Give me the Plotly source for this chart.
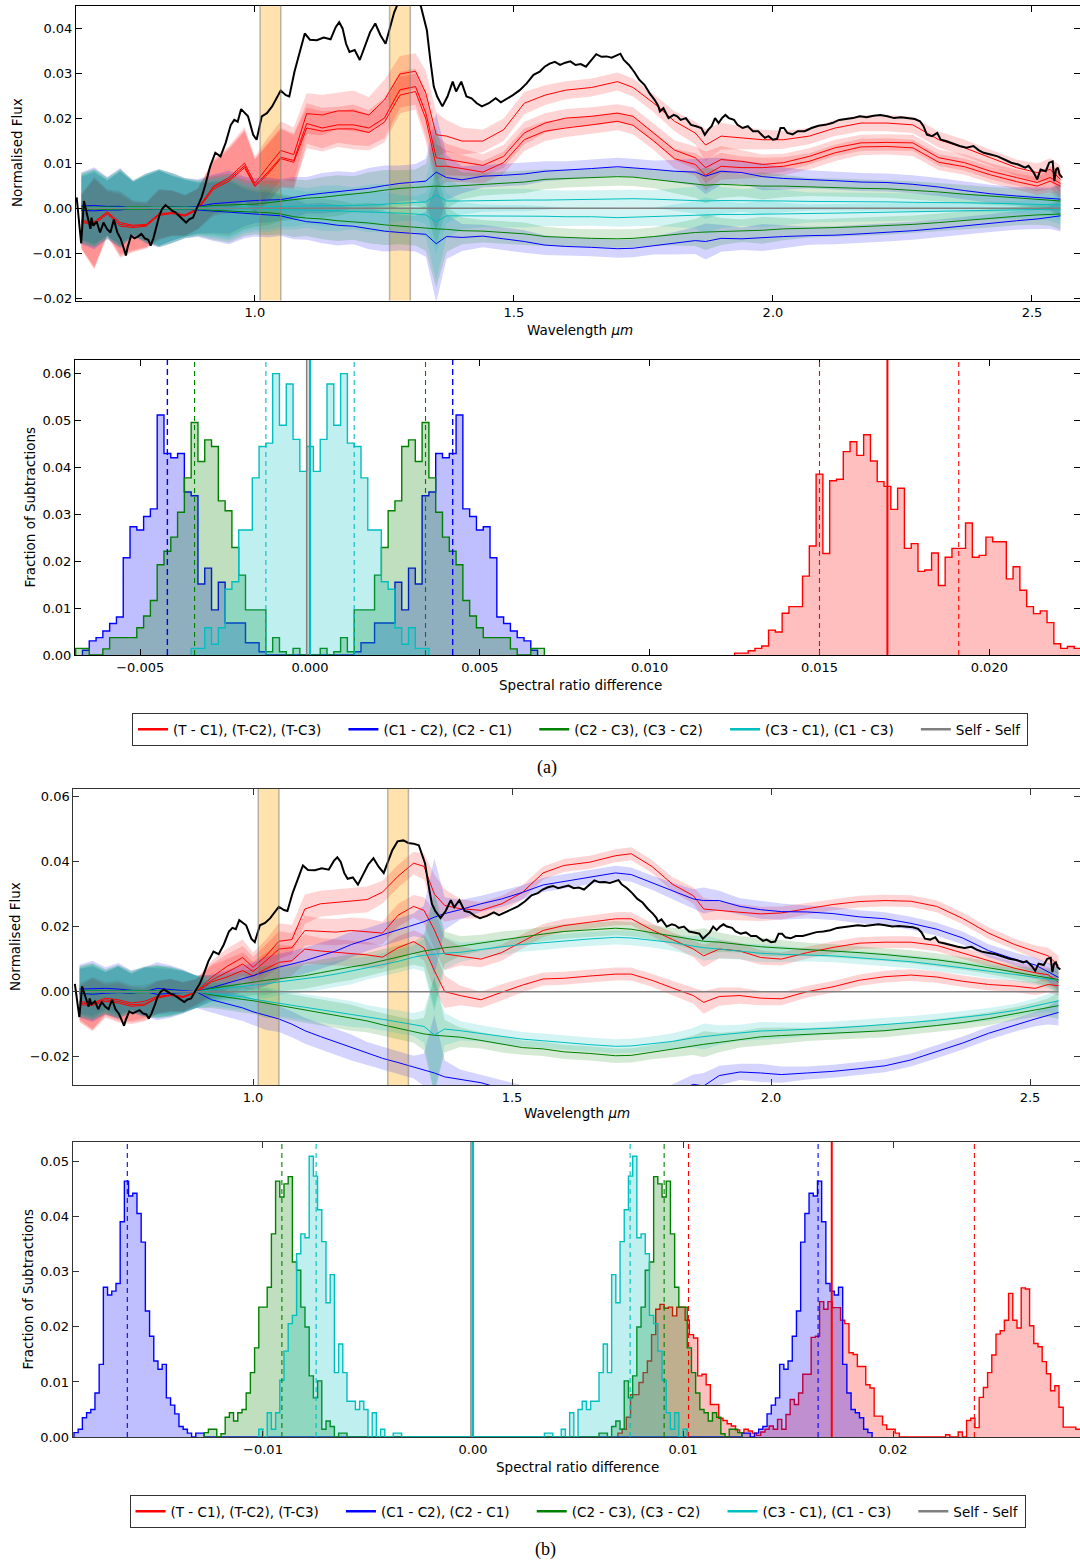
import plotly.graph_objects as go

# ================= DATA =================
# wavelength grid of the binned spectral differences (micron)
WL_MODEL = [0.665, 0.69, 0.715, 0.74, 0.765, 0.79, 0.815, 0.84, 0.865, 0.89,
            0.92, 0.95, 0.98, 1.00, 1.025, 1.05, 1.075, 1.10, 1.13, 1.16,
            1.19, 1.22, 1.25, 1.28, 1.31, 1.33, 1.35, 1.37, 1.40, 1.44,
            1.48, 1.52, 1.56, 1.60, 1.65, 1.70, 1.73, 1.77, 1.81, 1.85,
            1.87, 1.90, 1.94, 1.98, 2.02, 2.07, 2.12, 2.17, 2.22, 2.27,
            2.32, 2.37, 2.42, 2.47, 2.51, 2.535, 2.555]

# ---- panel (a) spectra ----
RED_A1 = [-0.0028, -0.0030, -0.0008, -0.0032, -0.0038, -0.0036, -0.0012, -0.0010, -0.0015, 0.0000,
          0.0049, 0.0068, 0.0100, 0.0055, 0.0092, 0.0128, 0.0119, 0.0210, 0.0207, 0.0216,
          0.0216, 0.0207, 0.0240, 0.0298, 0.0304, 0.0255, 0.0163, 0.0160, 0.0149, 0.0149,
          0.0174, 0.0233, 0.0251, 0.0262, 0.0268, 0.0281, 0.0268, 0.0233, 0.0193, 0.0167,
          0.0140, 0.0160, 0.0156, 0.0152, 0.0152, 0.0160, 0.0178, 0.0189, 0.0189, 0.0185,
          0.0152, 0.0134, 0.0112, 0.0090, 0.0079, 0.0086, 0.0064]
RED_A2 = [-0.0030, -0.0033, -0.0010, -0.0036, -0.0040, -0.0038, -0.0014, -0.0011, -0.0016, -0.0002,
          0.0046, 0.0064, 0.0094, 0.0050, 0.0080, 0.0113, 0.0106, 0.0188, 0.0178, 0.0185,
          0.0185, 0.0178, 0.0200, 0.0263, 0.0270, 0.0211, 0.0112, 0.0108, 0.0102, 0.0095,
          0.0115, 0.0167, 0.0189, 0.0200, 0.0204, 0.0211, 0.0204, 0.0167, 0.0129, 0.0112,
          0.0090, 0.0108, 0.0104, 0.0097, 0.0101, 0.0115, 0.0134, 0.0145, 0.0146, 0.0145,
          0.0112, 0.0101, 0.0082, 0.0068, 0.0057, 0.0068, 0.0055]
RED_A3 = [-0.0032, -0.0036, -0.0013, -0.0040, -0.0043, -0.0040, -0.0016, -0.0012, -0.0018, -0.0003,
          0.0042, 0.0060, 0.0090, 0.0048, 0.0076, 0.0110, 0.0102, 0.0178, 0.0171, 0.0176,
          0.0176, 0.0168, 0.0191, 0.0251, 0.0259, 0.0198, 0.0093, 0.0093, 0.0088, 0.0080,
          0.0101, 0.0152, 0.0171, 0.0178, 0.0185, 0.0193, 0.0184, 0.0149, 0.0110, 0.0097,
          0.0073, 0.0093, 0.0090, 0.0090, 0.0093, 0.0104, 0.0123, 0.0136, 0.0137, 0.0134,
          0.0102, 0.0092, 0.0074, 0.0059, 0.0049, 0.0060, 0.0049]
BLU_A_UP = [0.0005, 0.0006, 0.0004, 0.0004, 0.0000, 0.0002, 0.0001, 0.0003, 0.0002, 0.0004,
            0.0010, 0.0013, 0.0015, 0.0017, 0.0018, 0.0019, 0.0024, 0.0029, 0.0033, 0.0037,
            0.0040, 0.0044, 0.0050, 0.0055, 0.0058, 0.0060, 0.0080, 0.0068, 0.0063, 0.0071,
            0.0073, 0.0076, 0.0082, 0.0084, 0.0088, 0.0092, 0.0090, 0.0086, 0.0082, 0.0080,
            0.0071, 0.0082, 0.0079, 0.0070, 0.0066, 0.0064, 0.0061, 0.0058, 0.0057, 0.0053,
            0.0047, 0.0039, 0.0032, 0.0027, 0.0024, 0.0021, 0.0020]
BLU_A_LO = [-0.0005, -0.0006, -0.0004, -0.0004, 0.0000, -0.0003, -0.0002, -0.0003, -0.0002, -0.0004,
            -0.0008, -0.0010, -0.0012, -0.0013, -0.0015, -0.0017, -0.0024, -0.0030, -0.0033, -0.0038,
            -0.0040, -0.0046, -0.0051, -0.0054, -0.0056, -0.0058, -0.0079, -0.0063, -0.0065, -0.0062,
            -0.0068, -0.0074, -0.0082, -0.0085, -0.0087, -0.0090, -0.0089, -0.0083, -0.0078, -0.0072,
            -0.0074, -0.0067, -0.0068, -0.0065, -0.0063, -0.0061, -0.0060, -0.0057, -0.0054, -0.0050,
            -0.0045, -0.0039, -0.0033, -0.0028, -0.0024, -0.0021, -0.0017]
GRN_A_UP = [0.0003, 0.0002, 0.0003, 0.0002, 0.0003, 0.0002, 0.0002, 0.0003, 0.0002, 0.0002,
            0.0006, 0.0007, 0.0008, 0.0009, 0.0012, 0.0016, 0.0019, 0.0022, 0.0024, 0.0028,
            0.0031, 0.0035, 0.0040, 0.0044, 0.0046, 0.0048, 0.0049, 0.0048, 0.0050, 0.0053,
            0.0056, 0.0058, 0.0064, 0.0066, 0.0068, 0.0070, 0.0069, 0.0064, 0.0058, 0.0053,
            0.0051, 0.0053, 0.0051, 0.0049, 0.0049, 0.0047, 0.0046, 0.0044, 0.0043, 0.0040,
            0.0036, 0.0031, 0.0027, 0.0024, 0.0020, 0.0018, 0.0016]
GRN_A_LO = [-0.0003, -0.0002, -0.0003, -0.0002, -0.0003, -0.0002, -0.0002, -0.0003, -0.0002, -0.0002,
            -0.0005, -0.0006, -0.0007, -0.0008, -0.0010, -0.0013, -0.0019, -0.0022, -0.0024, -0.0028,
            -0.0030, -0.0033, -0.0037, -0.0040, -0.0043, -0.0045, -0.0046, -0.0047, -0.0050, -0.0051,
            -0.0054, -0.0057, -0.0063, -0.0065, -0.0067, -0.0068, -0.0067, -0.0063, -0.0058, -0.0054,
            -0.0053, -0.0052, -0.0050, -0.0049, -0.0046, -0.0045, -0.0043, -0.0041, -0.0039, -0.0036,
            -0.0032, -0.0027, -0.0023, -0.0018, -0.0015, -0.0014, -0.0013]
CYN_A_UP = [0.0001, 0.0001, 0.0002, 0.0001, 0.0001, 0.0001, 0.0002, 0.0001, 0.0001, 0.0001,
            0.0002, 0.0002, 0.0003, 0.0003, 0.0003, 0.0004, 0.0004, 0.0005, 0.0005, 0.0006,
            0.0006, 0.0007, 0.0009, 0.0011, 0.0013, 0.0014, 0.0029, 0.0016, 0.0016, 0.0017,
            0.0018, 0.0018, 0.0018, 0.0019, 0.0020, 0.0021, 0.0021, 0.0020, 0.0019, 0.0018,
            0.0016, 0.0017, 0.0017, 0.0016, 0.0016, 0.0015, 0.0015, 0.0014, 0.0014, 0.0013,
            0.0013, 0.0012, 0.0011, 0.0009, 0.0008, 0.0008, 0.0007]
CYN_A_LO = [-0.0001, -0.0001, -0.0001, -0.0002, -0.0001, -0.0001, -0.0001, -0.0002, -0.0001, -0.0001,
            -0.0001, -0.0001, -0.0002, -0.0002, -0.0003, -0.0003, -0.0003, -0.0004, -0.0005, -0.0006,
            -0.0007, -0.0008, -0.0009, -0.0011, -0.0013, -0.0015, -0.0030, -0.0017, -0.0017, -0.0017,
            -0.0018, -0.0018, -0.0018, -0.0019, -0.0019, -0.0021, -0.0020, -0.0019, -0.0017, -0.0015,
            -0.0016, -0.0014, -0.0014, -0.0013, -0.0013, -0.0012, -0.0011, -0.0010, -0.0009, -0.0009,
            -0.0008, -0.0006, -0.0005, -0.0004, -0.0003, -0.0003, -0.0002]
ERR_RED_A = [0.0060, 0.0100, 0.0050, 0.0070, 0.0055, 0.0050, 0.0055, 0.0050, 0.0045, 0.0045,
             0.0060, 0.0070, 0.0080, 0.0060, 0.0065, 0.0065, 0.0060, 0.0045, 0.0045, 0.0040,
             0.0045, 0.0040, 0.0045, 0.0040, 0.0040, 0.0050, 0.0050, 0.0035, 0.0030, 0.0025,
             0.0025, 0.0025, 0.0022, 0.0020, 0.0020, 0.0020, 0.0020, 0.0020, 0.0022, 0.0025,
             0.0035, 0.0030, 0.0025, 0.0022, 0.0020, 0.0018, 0.0018, 0.0018, 0.0018, 0.0018,
             0.0018, 0.0018, 0.0018, 0.0018, 0.0020, 0.0025, 0.0030]
ERR_CMP_A = [0.0075, 0.0085, 0.0065, 0.0085, 0.0060, 0.0075, 0.0085, 0.0075, 0.0065, 0.0060,
             0.0065, 0.0070, 0.0055, 0.0050, 0.0050, 0.0045, 0.0045, 0.0040, 0.0045, 0.0045,
             0.0040, 0.0045, 0.0045, 0.0040, 0.0040, 0.0050, 0.0130, 0.0050, 0.0030, 0.0025,
             0.0025, 0.0025, 0.0022, 0.0020, 0.0020, 0.0020, 0.0020, 0.0020, 0.0025, 0.0030,
             0.0040, 0.0030, 0.0025, 0.0030, 0.0025, 0.0020, 0.0020, 0.0020, 0.0020, 0.0020,
             0.0020, 0.0020, 0.0020, 0.0020, 0.0022, 0.0025, 0.0035]

# ---- panel (b) spectra ----
RED_B1 = [-0.0030, -0.0035, -0.0020, -0.0025, -0.0035, -0.0030, -0.0015, -0.0010, -0.0015, 0.0000,
          0.0044, 0.0078, 0.0105, 0.0075, 0.0110, 0.0155, 0.0160, 0.0254, 0.0270, 0.0275,
          0.0280, 0.0283, 0.0306, 0.0355, 0.0395, 0.0385, 0.0300, 0.0265, 0.0255, 0.0250,
          0.0270, 0.0305, 0.0365, 0.0388, 0.0398, 0.0418, 0.0424, 0.0385, 0.0330, 0.0295,
          0.0254, 0.0249, 0.0244, 0.0239, 0.0242, 0.0255, 0.0268, 0.0277, 0.0280, 0.0278,
          0.0262, 0.0225, 0.0180, 0.0145, 0.0122, 0.0110, 0.0080]
RED_B2 = [-0.0035, -0.0038, -0.0025, -0.0030, -0.0040, -0.0038, -0.0018, -0.0010, -0.0015, -0.0002,
          0.0035, 0.0060, 0.0085, 0.0062, 0.0095, 0.0131, 0.0135, 0.0188, 0.0185, 0.0183,
          0.0188, 0.0185, 0.0180, 0.0235, 0.0262, 0.0250, 0.0190, 0.0116, 0.0110, 0.0100,
          0.0120, 0.0155, 0.0188, 0.0203, 0.0213, 0.0224, 0.0224, 0.0190, 0.0160, 0.0131,
          0.0110, 0.0131, 0.0125, 0.0105, 0.0100, 0.0120, 0.0136, 0.0149, 0.0152, 0.0152,
          0.0142, 0.0118, 0.0095, 0.0072, 0.0058, 0.0052, 0.0029]
RED_B3 = [-0.0040, -0.0042, -0.0030, -0.0035, -0.0045, -0.0042, -0.0020, -0.0012, -0.0018, -0.0003,
          0.0030, 0.0045, 0.0065, 0.0048, 0.0070, 0.0090, 0.0095, 0.0131, 0.0125, 0.0121,
          0.0118, 0.0113, 0.0106, 0.0135, 0.0154, 0.0135, 0.0065, 0.0000, -0.0012, -0.0025,
          -0.0002, 0.0020, 0.0039, 0.0041, 0.0048, 0.0054, 0.0054, 0.0035, 0.0011, -0.0012,
          -0.0033, -0.0015, -0.0012, -0.0020, -0.0022, 0.0000, 0.0015, 0.0035, 0.0046, 0.0051,
          0.0045, 0.0032, 0.0022, 0.0017, 0.0010, 0.0022, 0.0018]
BLU_B_UP = [0.0008, 0.0010, 0.0010, 0.0008, 0.0005, 0.0000, 0.0010, 0.0006, 0.0003, 0.0000,
            0.0012, 0.0025, 0.0038, 0.0049, 0.0062, 0.0075, 0.0085, 0.0095, 0.0110, 0.0125,
            0.0145, 0.0160, 0.0175, 0.0190, 0.0205, 0.0215, 0.0229, 0.0240, 0.0252, 0.0270,
            0.0285, 0.0305, 0.0328, 0.0338, 0.0352, 0.0365, 0.0360, 0.0335, 0.0310, 0.0285,
            0.0280, 0.0280, 0.0262, 0.0252, 0.0246, 0.0245, 0.0240, 0.0230, 0.0224, 0.0210,
            0.0192, 0.0165, 0.0126, 0.0100, 0.0082, 0.0060, 0.0044]
BLU_B_LO = [-0.0005, -0.0008, -0.0005, -0.0003, -0.0005, 0.0000, -0.0008, -0.0005, -0.0003, 0.0000,
            -0.0025, -0.0038, -0.0050, -0.0062, -0.0073, -0.0084, -0.0100, -0.0120, -0.0138, -0.0155,
            -0.0172, -0.0190, -0.0205, -0.0218, -0.0232, -0.0240, -0.0250, -0.0262, -0.0269, -0.0280,
            -0.0298, -0.0310, -0.0320, -0.0335, -0.0345, -0.0350, -0.0348, -0.0330, -0.0310, -0.0285,
            -0.0290, -0.0258, -0.0247, -0.0250, -0.0255, -0.0250, -0.0245, -0.0237, -0.0228, -0.0210,
            -0.0185, -0.0158, -0.0128, -0.0103, -0.0084, -0.0073, -0.0064]
GRN_B_UP = [0.0004, 0.0003, 0.0004, 0.0002, 0.0004, 0.0003, 0.0002, 0.0002, 0.0001, 0.0000,
            0.0010, 0.0018, 0.0024, 0.0029, 0.0035, 0.0040, 0.0045, 0.0049, 0.0058, 0.0068,
            0.0076, 0.0084, 0.0095, 0.0106, 0.0118, 0.0125, 0.0130, 0.0135, 0.0140, 0.0150,
            0.0160, 0.0168, 0.0177, 0.0185, 0.0190, 0.0195, 0.0192, 0.0182, 0.0172, 0.0160,
            0.0155, 0.0152, 0.0145, 0.0138, 0.0134, 0.0130, 0.0126, 0.0120, 0.0114, 0.0107,
            0.0098, 0.0087, 0.0074, 0.0060, 0.0049, 0.0043, 0.0037]
GRN_B_LO = [-0.0004, -0.0003, -0.0004, -0.0002, -0.0004, -0.0003, -0.0002, -0.0002, -0.0001, 0.0000,
            -0.0010, -0.0018, -0.0024, -0.0028, -0.0035, -0.0042, -0.0048, -0.0055, -0.0063, -0.0072,
            -0.0080, -0.0090, -0.0102, -0.0112, -0.0122, -0.0130, -0.0134, -0.0137, -0.0140, -0.0150,
            -0.0162, -0.0172, -0.0176, -0.0185, -0.0190, -0.0197, -0.0196, -0.0186, -0.0176, -0.0165,
            -0.0162, -0.0156, -0.0147, -0.0139, -0.0135, -0.0132, -0.0128, -0.0124, -0.0120, -0.0113,
            -0.0104, -0.0095, -0.0083, -0.0068, -0.0055, -0.0049, -0.0043]
CYN_B_UP = [0.0002, 0.0001, 0.0002, 0.0001, 0.0002, 0.0001, 0.0001, 0.0001, 0.0001, 0.0000,
            0.0006, 0.0011, 0.0015, 0.0018, 0.0024, 0.0030, 0.0035, 0.0039, 0.0046, 0.0054,
            0.0063, 0.0072, 0.0083, 0.0093, 0.0106, 0.0112, 0.0116, 0.0118, 0.0121, 0.0130,
            0.0138, 0.0145, 0.0150, 0.0157, 0.0162, 0.0167, 0.0165, 0.0158, 0.0151, 0.0140,
            0.0135, 0.0131, 0.0124, 0.0118, 0.0115, 0.0113, 0.0110, 0.0104, 0.0099, 0.0092,
            0.0083, 0.0074, 0.0063, 0.0053, 0.0044, 0.0038, 0.0034]
CYN_B_LO = [-0.0002, -0.0001, -0.0002, -0.0001, -0.0002, -0.0001, -0.0001, -0.0001, -0.0001, 0.0000,
            -0.0006, -0.0011, -0.0016, -0.0023, -0.0030, -0.0036, -0.0042, -0.0048, -0.0055, -0.0062,
            -0.0069, -0.0076, -0.0085, -0.0093, -0.0101, -0.0107, -0.0133, -0.0115, -0.0120, -0.0128,
            -0.0138, -0.0146, -0.0151, -0.0157, -0.0163, -0.0168, -0.0167, -0.0160, -0.0153, -0.0142,
            -0.0138, -0.0133, -0.0127, -0.0121, -0.0119, -0.0116, -0.0112, -0.0107, -0.0102, -0.0095,
            -0.0088, -0.0079, -0.0070, -0.0058, -0.0043, -0.0035, -0.0028]
ERR_RED_B = [0.0055, 0.0080, 0.0050, 0.0060, 0.0055, 0.0050, 0.0050, 0.0050, 0.0045, 0.0040,
             0.0050, 0.0055, 0.0055, 0.0045, 0.0050, 0.0055, 0.0045, 0.0045, 0.0040, 0.0040,
             0.0040, 0.0040, 0.0035, 0.0035, 0.0035, 0.0040, 0.0060, 0.0050, 0.0030, 0.0025,
             0.0025, 0.0022, 0.0020, 0.0020, 0.0020, 0.0020, 0.0020, 0.0020, 0.0022, 0.0025,
             0.0035, 0.0028, 0.0025, 0.0022, 0.0020, 0.0018, 0.0018, 0.0018, 0.0018, 0.0018,
             0.0018, 0.0018, 0.0018, 0.0018, 0.0020, 0.0025, 0.0030]
ERR_CMP_B = [0.0075, 0.0085, 0.0065, 0.0080, 0.0060, 0.0075, 0.0080, 0.0075, 0.0065, 0.0050,
             0.0040, 0.0040, 0.0040, 0.0040, 0.0045, 0.0040, 0.0040, 0.0040, 0.0040, 0.0040,
             0.0040, 0.0035, 0.0035, 0.0035, 0.0035, 0.0050, 0.0180, 0.0050, 0.0030, 0.0025,
             0.0025, 0.0022, 0.0022, 0.0022, 0.0022, 0.0022, 0.0022, 0.0022, 0.0025, 0.0030,
             0.0040, 0.0030, 0.0025, 0.0028, 0.0025, 0.0020, 0.0020, 0.0020, 0.0020, 0.0020,
             0.0020, 0.0020, 0.0020, 0.0020, 0.0022, 0.0028, 0.0040]

# ---- target spectrum (black), same in both panels ----
WL_T = [0.656, 0.6647, 0.670, 0.6826, 0.6846, 0.6879, 0.6946, 0.7012, 0.7078, 0.7145,
        0.7211, 0.7278, 0.7344, 0.741, 0.7477, 0.751, 0.7543, 0.761, 0.7676, 0.7742,
        0.7809, 0.7875, 0.7942, 0.7988, 0.8041, 0.8108, 0.8154, 0.8207, 0.8274, 0.834,
        0.8406, 0.8473, 0.8539, 0.8606, 0.8672, 0.8738, 0.8805, 0.8871, 0.8924, 0.8971,
        0.9037, 0.9137, 0.9236, 0.9336, 0.9436, 0.9535, 0.9602, 0.9668, 0.9734, 0.9801,
        0.9867, 0.9967, 1.0033, 1.0133, 1.0232, 1.0332, 1.0432, 1.0498, 1.0598, 1.0664,
        1.0764, 1.0863, 1.0963, 1.1062, 1.1195, 1.1328, 1.1461, 1.156, 1.1627, 1.1693,
        1.176, 1.1826, 1.1926, 1.2025, 1.2125, 1.2224, 1.2324, 1.2424, 1.2523, 1.2623,
        1.2689, 1.2789, 1.290, 1.300, 1.310, 1.320, 1.326, 1.332, 1.3386, 1.3453,
        1.3519, 1.3619, 1.3718, 1.3818, 1.3884, 1.3984, 1.4084, 1.4183, 1.4283, 1.4382,
        1.4515, 1.4648, 1.4748, 1.488, 1.498, 1.5113, 1.5246, 1.5378, 1.5498, 1.5592,
        1.5691, 1.5791, 1.5891, 1.5991, 1.609, 1.619, 1.629, 1.639, 1.6489, 1.6589,
        1.6689, 1.6789, 1.6888, 1.6988, 1.7055, 1.7121, 1.7221, 1.732, 1.742, 1.752,
        1.762, 1.7719, 1.7786, 1.7819, 1.7886, 1.7985, 1.8085, 1.8152, 1.8218, 1.8318,
        1.8418, 1.8517, 1.8617, 1.8684, 1.875, 1.8816, 1.8883, 1.895, 1.9016, 1.9082,
        1.9149, 1.9249, 1.9315, 1.9415, 1.9515, 1.9614, 1.9714, 1.9781, 1.9847, 1.9914,
        2.000, 2.008, 2.0146, 2.0213, 2.0279, 2.0379, 2.0479, 2.0612, 2.0745, 2.0878,
        2.1011, 2.1144, 2.1277, 2.141, 2.1543, 2.1676, 2.1809, 2.1941, 2.2074, 2.2207,
        2.234, 2.2473, 2.2606, 2.2739, 2.2839, 2.2906, 2.2972, 2.3072, 2.3172, 2.3238,
        2.3338, 2.3471, 2.3604, 2.3737, 2.387, 2.3969, 2.4069, 2.4202, 2.4335, 2.4468,
        2.4601, 2.4734, 2.4867, 2.4934, 2.5033, 2.510, 2.5166, 2.5266, 2.5332, 2.5399,
        2.5432, 2.5465, 2.5499, 2.5532, 2.5585]
FLUX_T = [0.0024, -0.0078, 0.0016, -0.0046, -0.0021, -0.0039, -0.0030, -0.0054, -0.0032, -0.0046,
          -0.0054, -0.0025, -0.0054, -0.0068, -0.0092, -0.0105, -0.0087, -0.0061, -0.0067, -0.0063,
          -0.0057, -0.0067, -0.0070, -0.0083, -0.0067, -0.0039, -0.0017, -0.0002, 0.0007, 0.0001,
          -0.0006, -0.0010, -0.0017, -0.0026, -0.0032, -0.0024, -0.0021, -0.0002, 0.0014, 0.0024,
          0.0049, 0.0093, 0.0123, 0.0115, 0.0145, 0.0185, 0.0196, 0.0192, 0.0220, 0.0211,
          0.0204, 0.0163, 0.0152, 0.0204, 0.0211, 0.0226, 0.0248, 0.0261, 0.0251, 0.0248,
          0.0303, 0.0343, 0.0388, 0.0374, 0.0373, 0.0379, 0.0375, 0.0402, 0.0413, 0.0399,
          0.0365, 0.0347, 0.0351, 0.0329, 0.0358, 0.0391, 0.0410, 0.0384, 0.0365, 0.0406,
          0.0435, 0.0462, 0.0465, 0.0457, 0.0455, 0.0450, 0.0420, 0.0395, 0.0329, 0.0270,
          0.0248, 0.0226, 0.0248, 0.0281, 0.0259, 0.0281, 0.0248, 0.0244, 0.0233, 0.0226,
          0.0233, 0.0244, 0.0235, 0.0244, 0.0251, 0.0262, 0.0277, 0.0296, 0.0303, 0.0314,
          0.0321, 0.0325, 0.0318, 0.0323, 0.0326, 0.0318, 0.0320, 0.0314, 0.0329, 0.0342,
          0.0336, 0.0337, 0.0334, 0.0340, 0.0343, 0.0329, 0.0318, 0.0303, 0.0285, 0.0274,
          0.0255, 0.0240, 0.0227, 0.0215, 0.0222, 0.0200, 0.0207, 0.0204, 0.0196, 0.0200,
          0.0185, 0.0182, 0.0178, 0.0163, 0.0174, 0.0182, 0.0200, 0.0189, 0.0200, 0.0207,
          0.0200, 0.0196, 0.0185, 0.0178, 0.0182, 0.0171, 0.0171, 0.0163, 0.0156, 0.0160,
          0.0152, 0.0154, 0.0178, 0.0178, 0.0167, 0.0164, 0.0171, 0.0171, 0.0178, 0.0183,
          0.0185, 0.0189, 0.0196, 0.0198, 0.0200, 0.0204, 0.0202, 0.0205, 0.0207, 0.0204,
          0.0200, 0.0202, 0.0200, 0.0198, 0.0193, 0.0182, 0.0163, 0.0160, 0.0167, 0.0152,
          0.0149, 0.0143, 0.0138, 0.0134, 0.0138, 0.0129, 0.0123, 0.0119, 0.0115, 0.0108,
          0.0101, 0.0097, 0.0090, 0.0094, 0.0079, 0.0064, 0.0086, 0.0082, 0.0101, 0.0104,
          0.0060, 0.0086, 0.0090, 0.0075, 0.0068]

TELLURIC_BANDS = [(1.01, 1.05), (1.26, 1.30)]

# ---- histograms (a): bin width, first bin centre, values ----
BIN_W = 0.0002
HA_RED_START = 0.0126
HA_RED = [0.0004, 0.0004, 0.0009, 0.0014, 0.0019, 0.0053, 0.0049, 0.0089, 0.0103, 0.0103,
          0.0168, 0.0232, 0.0385, 0.0216, 0.0371, 0.0374, 0.0433, 0.0454, 0.0425, 0.0469,
          0.0413, 0.0369, 0.0359, 0.0310, 0.0355, 0.0227, 0.0237, 0.0178, 0.0181, 0.0217,
          0.0148, 0.0208, 0.0227, 0.0227, 0.0281, 0.0208, 0.0212, 0.0251, 0.0241, 0.0241,
          0.0162, 0.0188, 0.0138, 0.0103, 0.0088, 0.0094, 0.0069, 0.0024, 0.0014, 0.0018,
          0.0014]
# negative halves (the distributions are mirror-symmetric about zero)
HA_BLUE_START = -0.0066
HA_BLUE_HALF = [0.0010, 0.0030, 0.0037, 0.0051, 0.0067, 0.0081, 0.0207, 0.0273, 0.0266, 0.0295,
                0.0311, 0.0511, 0.0429, 0.0420, 0.0429, 0.0347, 0.0339, 0.0151, 0.0185, 0.0096,
                0.0155, 0.0068, 0.0068, 0.0068, 0.0026, 0.0026, 0.0007]
HA_GREEN_START = -0.0068
HA_GREEN_HALF = [0.0014, 0.0014, 0.0000, 0.0000, 0.0013, 0.0037, 0.0037, 0.0037, 0.0037, 0.0058,
                 0.0083, 0.0116, 0.0192, 0.0221, 0.0251, 0.0304, 0.0377, 0.0495, 0.0412, 0.0458,
                 0.0444, 0.0328, 0.0307, 0.0229, 0.0170, 0.0096, 0.0096, 0.0096, 0.0007, 0.0037,
                 0.0007, 0.0000, 0.0014]
HA_CYAN_START = -0.0034      # last value is the central (zero) bin
HA_CYAN_HALF = [0.0014, 0.0014, 0.0058, 0.0023, 0.0058, 0.0140, 0.0156, 0.0266, 0.0266, 0.0377,
                0.0444, 0.0451, 0.0599, 0.0489, 0.0577, 0.0459, 0.0391, 0.0444]
HA_RED_LINES = [0.0150, 0.0191]
HA_RED_MEDIAN = 0.0170
HA_BLUE_LINES = [-0.0042, 0.0042]
HA_GREEN_LINES = [-0.0034, 0.0034]
HA_CYAN_LINES = [-0.0013, 0.0013]
CMP_MEDIAN = 0.0
SELF_CENTRE, SELF_WIDTH, SELF_FRAC = -0.00005, 0.0001, [1.0]

# ---- histograms (b) ----
HB_RED_START = 0.0070
HB_RED = [0.0007, 0.0014, 0.0036, 0.0077, 0.0077, 0.0099, 0.0117, 0.0138, 0.0186, 0.0232,
          0.0241, 0.0234, 0.0236, 0.0220, 0.0236, 0.0236, 0.0212, 0.0186, 0.0180, 0.0111,
          0.0114, 0.0095, 0.0059, 0.0059, 0.0034, 0.0030, 0.0024, 0.0020, 0.0013, 0.0008,
          0.0014, 0.0011, 0.0007, 0.0003, 0.0009, 0.0014, 0.0020, 0.0014, 0.0032, 0.0014,
          0.0041, 0.0068, 0.0059, 0.0080, 0.0114, 0.0114, 0.0181, 0.0183, 0.0246, 0.0232,
          0.0246, 0.0235, 0.0235, 0.0212, 0.0206, 0.0153, 0.0150, 0.0128, 0.0128, 0.0095,
          0.0089, 0.0038, 0.0038, 0.0022, 0.0014, 0.0014, 0.0007, 0.0000, 0.0000, 0.0000,
          0.0000, 0.0000, 0.0000, 0.0000, 0.0000, 0.0000, 0.0000, 0.0000, 0.0004, 0.0000,
          0.0000, 0.0009, 0.0000, 0.0030, 0.0034, 0.0017, 0.0072, 0.0090, 0.0117, 0.0149,
          0.0187, 0.0193, 0.0212, 0.0261, 0.0212, 0.0198, 0.0271, 0.0269, 0.0202, 0.0170,
          0.0164, 0.0137, 0.0115, 0.0084, 0.0093, 0.0054, 0.0018, 0.0018, 0.0018, 0.0014,
          0.0014]
HB_BLUE_START = -0.0189
HB_BLUE_HALF = [0.0008, 0.0014, 0.0035, 0.0044, 0.0050, 0.0080, 0.0132, 0.0272, 0.0258, 0.0265,
                0.0279, 0.0391, 0.0465, 0.0438, 0.0443, 0.0406, 0.0354, 0.0229, 0.0183, 0.0138,
                0.0123, 0.0132, 0.0071, 0.0058, 0.0042, 0.0019, 0.0014, 0.0007, 0.0000, 0.0007,
                0.0007]
HB_GREEN_START = -0.0127
HB_GREEN_HALF = [0.0008, 0.0014, 0.0014, 0.0000, 0.0006, 0.0036, 0.0044, 0.0029, 0.0044, 0.0050,
                 0.0080, 0.0117, 0.0162, 0.0236, 0.0236, 0.0272, 0.0369, 0.0465, 0.0436, 0.0460,
                 0.0473, 0.0318, 0.0303, 0.0236, 0.0200, 0.0111, 0.0071, 0.0102, 0.0014, 0.0029,
                 0.0019, 0.0000, 0.0007, 0.0007]
HB_CYAN_START = -0.0101
HB_CYAN_HALF = [0.0014, 0.0000, 0.0044, 0.0014, 0.0044, 0.0103, 0.0156, 0.0206, 0.0221, 0.0333,
                0.0369, 0.0362, 0.0510, 0.0474, 0.0413, 0.0355, 0.0244, 0.0295, 0.0117, 0.0169,
                0.0117, 0.0065, 0.0065, 0.0050, 0.0065, 0.0050, 0.0000, 0.0044, 0.0000, 0.0014,
                0.0000, 0.0000, 0.0007, 0.0007]
HB_RED_LINES = [0.01026, 0.02387]
HB_RED_MEDIAN = 0.01708
HB_BLUE_LINES = [-0.01646, 0.01643]
HB_GREEN_LINES = [-0.0091, 0.0091]
HB_CYAN_LINES = [-0.00747, 0.00748]

LEGEND_LABELS = ["(T - C1), (T-C2), (T-C3)", "(C1 - C2), (C2 - C1)",
                 "(C2 - C3), (C3 - C2)", "(C3 - C1), (C1 - C3)", "Self - Self"]

# ================= STYLE =================
C_RED = (255, 0, 0)
C_BLUE = (0, 0, 255)
C_GREEN = (0, 128, 0)
C_CYAN = (0, 191, 191)
C_GRAY = (128, 128, 128)
LEG_COLORS = [C_RED, C_BLUE, C_GREEN, C_CYAN, C_GRAY]
FONT = "DejaVu Sans"
PAD = "\u00a0" * 4


def rgba(c, a=1.0):
    return "rgba(%d,%d,%d,%s)" % (c[0], c[1], c[2], a)


fig = go.Figure()
shapes = []


def spectra_panel(ax, lines):
    xa, ya = ("x" + ax, "y" + ax) if ax else ("x", "y")
    for vals, col, err in lines:
        up = [v + e for v, e in zip(vals, err)]
        lo = [v - e for v, e in zip(vals, err)]
        fig.add_trace(go.Scatter(x=WL_MODEL + WL_MODEL[::-1], y=up + lo[::-1],
                                 fill="toself", fillcolor=rgba(col, 0.17),
                                 mode="lines", line=dict(width=0),
                                 hoverinfo="skip", showlegend=False, xaxis=xa, yaxis=ya))
    for vals, col, err in lines:
        fig.add_trace(go.Scatter(x=WL_MODEL, y=vals, mode="lines",
                                 line=dict(color=rgba(col), width=1),
                                 hoverinfo="skip", showlegend=False, xaxis=xa, yaxis=ya))
    fig.add_trace(go.Scatter(x=[WL_MODEL[0], WL_MODEL[-1]], y=[0, 0], mode="lines",
                             line=dict(color=rgba(C_GRAY), width=1.5),
                             hoverinfo="skip", showlegend=False, xaxis=xa, yaxis=ya))
    fig.add_trace(go.Scatter(x=WL_T, y=FLUX_T, mode="lines",
                             line=dict(color="black", width=2),
                             hoverinfo="skip", showlegend=False, xaxis=xa, yaxis=ya))
    for lo_, hi_ in TELLURIC_BANDS:
        shapes.append(dict(type="rect", xref=xa, yref=ya + " domain", x0=lo_, x1=hi_, y0=0, y1=1,
                           fillcolor="rgba(255,165,0,0.32)", line=dict(width=0), layer="below"))
        for xv in (lo_, hi_):
            shapes.append(dict(type="line", xref=xa, yref=ya + " domain", x0=xv, x1=xv, y0=0, y1=1,
                               line=dict(color="rgba(128,128,128,0.55)", width=1.5)))


def step_xy(start, width, values):
    left0 = start - width / 2
    xs, ys = [left0], [0]
    for i, v in enumerate(values):
        l = left0 + i * width
        xs += [l, l + width]
        ys += [v, v]
    xs.append(left0 + len(values) * width)
    ys.append(0)
    return xs, ys


def mirrored(start, width, half, centre_included=False):
    if centre_included:
        return half + half[-2::-1]
    last = start + (len(half) - 1) * width
    gap = int(round(-2 * last / width)) - 1
    return half + [0.0] * gap + half[::-1]


def hist(ax, start, width, values, col):
    xs, ys = step_xy(start, width, values)
    fig.add_trace(go.Scatter(x=xs, y=ys, mode="lines", fill="tozeroy",
                             fillcolor=rgba(col, 0.25), line=dict(color=rgba(col), width=1.4),
                             hoverinfo="skip", showlegend=False, xaxis="x" + ax, yaxis="y" + ax))


def vline(ax, xv, col, dash=None, width=1.3):
    ln = dict(color=rgba(col), width=width)
    if dash:
        ln["dash"] = dash
    shapes.append(dict(type="line", xref="x" + ax, yref="y" + ax + " domain",
                       x0=xv, x1=xv, y0=0, y1=1, line=ln))


# ---- panel 1 : spectra (a)
spectra_panel("", [(RED_A1, C_RED, ERR_RED_A), (RED_A2, C_RED, ERR_RED_A), (RED_A3, C_RED, ERR_RED_A),
                   (BLU_A_UP, C_BLUE, ERR_CMP_A), (BLU_A_LO, C_BLUE, ERR_CMP_A),
                   (GRN_A_UP, C_GREEN, ERR_CMP_A), (GRN_A_LO, C_GREEN, ERR_CMP_A),
                   (CYN_A_UP, C_CYAN, ERR_CMP_A), (CYN_A_LO, C_CYAN, ERR_CMP_A)])

# ---- panel 2 : histograms (a)
hist("2", HA_RED_START, BIN_W, HA_RED, C_RED)
hist("2", HA_BLUE_START, BIN_W, mirrored(HA_BLUE_START, BIN_W, HA_BLUE_HALF), C_BLUE)
hist("2", HA_GREEN_START, BIN_W, mirrored(HA_GREEN_START, BIN_W, HA_GREEN_HALF), C_GREEN)
hist("2", HA_CYAN_START, BIN_W, mirrored(HA_CYAN_START, BIN_W, HA_CYAN_HALF, True), C_CYAN)
hist("2", SELF_CENTRE, SELF_WIDTH, SELF_FRAC, C_GRAY)
for v in HA_RED_LINES:
    vline("2", v, C_RED, "5px,4px", 1.1)
vline("2", HA_RED_MEDIAN, C_RED, None, 2)
for v in HA_BLUE_LINES:
    vline("2", v, C_BLUE, "6px,4px", 1.4)
for v in HA_GREEN_LINES:
    vline("2", v, C_GREEN, "5px,4px", 1.1)
for v in HA_CYAN_LINES:
    vline("2", v, C_CYAN, "5px,4px", 1.1)
for c in (C_BLUE, C_GREEN, C_CYAN):
    vline("2", CMP_MEDIAN, c, None, 2)

# ---- panel 3 : spectra (b)
spectra_panel("3", [(RED_B1, C_RED, ERR_RED_B), (RED_B2, C_RED, ERR_RED_B), (RED_B3, C_RED, ERR_RED_B),
                    (BLU_B_UP, C_BLUE, ERR_CMP_B), (BLU_B_LO, C_BLUE, ERR_CMP_B),
                    (GRN_B_UP, C_GREEN, ERR_CMP_B), (GRN_B_LO, C_GREEN, ERR_CMP_B),
                    (CYN_B_UP, C_CYAN, ERR_CMP_B), (CYN_B_LO, C_CYAN, ERR_CMP_B)])

# ---- panel 4 : histograms (b)
hist("4", HB_RED_START, BIN_W, HB_RED, C_RED)
hist("4", HB_BLUE_START, BIN_W, mirrored(HB_BLUE_START, BIN_W, HB_BLUE_HALF), C_BLUE)
hist("4", HB_GREEN_START, BIN_W, mirrored(HB_GREEN_START, BIN_W, HB_GREEN_HALF), C_GREEN)
hist("4", HB_CYAN_START, BIN_W, mirrored(HB_CYAN_START, BIN_W, HB_CYAN_HALF), C_CYAN)
hist("4", SELF_CENTRE, SELF_WIDTH, SELF_FRAC, C_GRAY)
for v in HB_RED_LINES:
    vline("4", v, C_RED, "5px,4px", 1.1)
vline("4", HB_RED_MEDIAN, C_RED, None, 2)
for v in HB_BLUE_LINES:
    vline("4", v, C_BLUE, "5px,4px", 1.1)
for v in HB_GREEN_LINES:
    vline("4", v, C_GREEN, "5px,4px", 1.1)
for v in HB_CYAN_LINES:
    vline("4", v, C_CYAN, "5px,4px", 1.1)
for c in (C_BLUE, C_GREEN, C_CYAN):
    vline("4", CMP_MEDIAN, c, None, 2)

# ---- legend entries
for lg, ax in (("legend", "2"), ("legend2", "4")):
    for i, (lab, col) in enumerate(zip(LEGEND_LABELS, LEG_COLORS)):
        name = lab + (PAD if i < len(LEGEND_LABELS) - 1 else "")
        fig.add_trace(go.Scatter(x=[None], y=[None], mode="lines", name=name,
                                 line=dict(color=rgba(col), width=2.5),
                                 legend=lg, xaxis="x" + ax, yaxis="y" + ax))

H = 1561.0
W = 1080.0


def ydom(top_px, bot_px):
    return [1 - bot_px / H, 1 - top_px / H]


def axstyle(col="black", **kw):
    d = dict(showline=True, linecolor=col, linewidth=1, mirror="ticks", ticks="inside",
             ticklen=6, tickcolor=col, showgrid=False, zeroline=False, automargin=False,
             tickfont=dict(family=FONT, size=13, color="black"))
    d.update(kw)
    return d


layout = dict(
    width=1080, height=1561, margin=dict(l=0, r=0, t=0, b=0, pad=0, autoexpand=False),
    paper_bgcolor="white", plot_bgcolor="white",
    xaxis=axstyle(domain=[76 / W, 1], range=[0.6547, 2.5927], anchor="y",
                  tickvals=[1.0, 1.5, 2.0, 2.5], tickformat=".1f"),
    yaxis=axstyle(domain=ydom(5.5, 300.5), range=[-0.0205, 0.045], anchor="x",
                  dtick=0.01, tickformat=".2f"),
    xaxis2=axstyle(domain=[75 / W, 1], range=[-0.00692, 0.02267], anchor="y2",
                   dtick=0.005, tickformat=".3f"),
    yaxis2=axstyle(domain=ydom(360, 655), range=[0, 0.0628], anchor="x2",
                   dtick=0.01, tickformat=".2f"),
    xaxis3=axstyle("#333", domain=[73.3 / W, 1], range=[0.653, 2.5965], anchor="y3",
                   tickvals=[1.0, 1.5, 2.0, 2.5], tickformat=".1f"),
    yaxis3=axstyle("#333", domain=ydom(789, 1085), range=[-0.0287, 0.0623], anchor="x3",
                   dtick=0.02, tickformat=".2f"),
    xaxis4=axstyle("#333", domain=[72.7 / W, 1], range=[-0.01906, 0.0289], anchor="y4",
                   dtick=0.01, tickformat=".2f"),
    yaxis4=axstyle("#333", domain=ydom(1142, 1437), range=[0, 0.0536], anchor="x4",
                   dtick=0.01, tickformat=".2f"),
    legend=dict(orientation="h", x=580 / W, xanchor="center", y=1 - 713 / H, yanchor="top",
                bordercolor="#333", borderwidth=1, bgcolor="white",
                font=dict(family=FONT, size=13.5, color="black"), itemwidth=30),
    legend2=dict(orientation="h", x=577.5 / W, xanchor="center", y=1 - 1495 / H, yanchor="top",
                 bordercolor="#333", borderwidth=1, bgcolor="white",
                 font=dict(family=FONT, size=13.5, color="black"), itemwidth=30),
    shapes=shapes,
)

ann_font = dict(family=FONT, size=13.5, color="black")
annotations = [
    dict(text="Normalised Flux", x=17 / W, y=1 - 153 / H, textangle=-90),
    dict(text="Wavelength <i>μm</i>", x=580 / W, y=1 - 330 / H),
    dict(text="Fraction of Subtractions", x=30 / W, y=1 - 507.5 / H, textangle=-90),
    dict(text="Spectral ratio difference", x=580 / W, y=1 - 685 / H),
    dict(text="Normalised Flux", x=15 / W, y=1 - 937 / H, textangle=-90),
    dict(text="Wavelength <i>μm</i>", x=577 / W, y=1 - 1113 / H),
    dict(text="Fraction of Subtractions", x=27 / W, y=1 - 1289.5 / H, textangle=-90),
    dict(text="Spectral ratio difference", x=577 / W, y=1 - 1467 / H),
]
for a in annotations:
    a.update(xref="paper", yref="paper", showarrow=False, xanchor="center", yanchor="middle",
             font=ann_font)
annotations.append(dict(text="(a)", x=547 / W, y=1 - 767 / H, xref="paper", yref="paper",
                        showarrow=False, xanchor="center", yanchor="middle",
                        font=dict(family="Liberation Serif", size=18, color="black")))
annotations.append(dict(text="(b)", x=545 / W, y=1 - 1549 / H, xref="paper", yref="paper",
                        showarrow=False, xanchor="center", yanchor="middle",
                        font=dict(family="Liberation Serif", size=18, color="black")))
layout["annotations"] = annotations

fig.update_layout(**layout)
fig.write_html("out.html", config={"displayModeBar": False},
               post_script="document.body.style.margin='0px';document.body.style.padding='0px';")
